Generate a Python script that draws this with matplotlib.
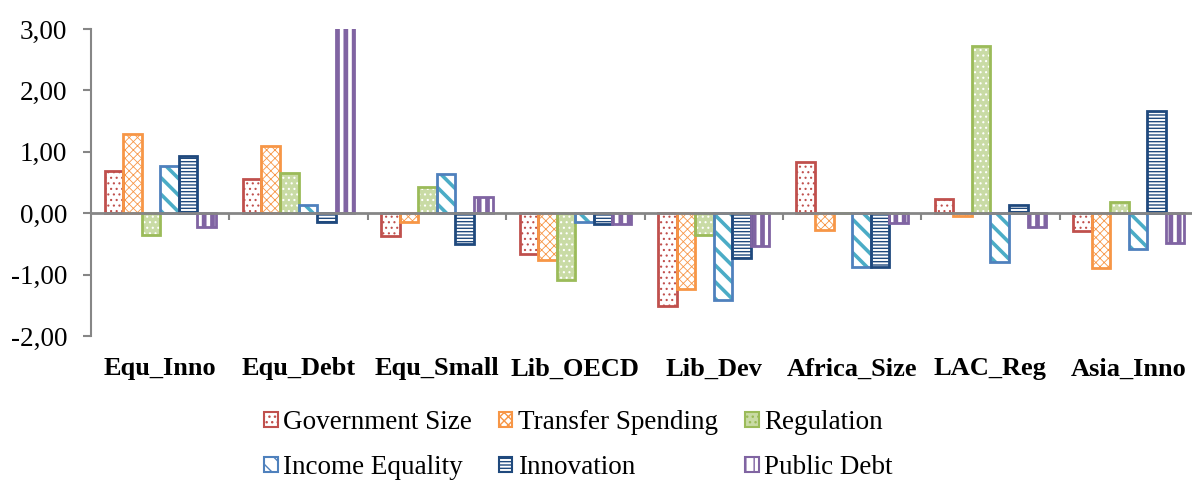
import matplotlib
matplotlib.use('Agg')
import matplotlib.pyplot as plt
import matplotlib.patches as mpatches
import matplotlib.transforms as mtransforms
from matplotlib.ticker import FuncFormatter, FixedLocator
import numpy as np

plt.rcParams['font.family'] = ['Liberation Serif', 'DejaVu Serif']

categories = ['Equ_Inno', 'Equ_Debt', 'Equ_Small', 'Lib_OECD', 'Lib_Dev',
              'Africa_Size', 'LAC_Reg', 'Asia_Inno']
series_names = ['Government Size', 'Transfer Spending', 'Regulation',
                'Income Equality', 'Innovation', 'Public Debt']

gov_size = [0.68, 0.56, -0.37, -0.67, -1.51, 0.84, 0.23, -0.29]
transfer = [1.29, 1.10, -0.14, -0.76, -1.23, -0.28, -0.04, -0.90]
regulation = [-0.35, 0.66, 0.43, -1.08, -0.36, 0.01, 2.72, 0.19]
income_eq = [0.77, 0.13, 0.64, -0.14, -1.42, -0.88, -0.79, -0.58]
innovation = [0.93, -0.15, -0.50, -0.17, -0.73, -0.87, 0.13, 1.67]
public_debt = [-0.22, 3.60, 0.27, -0.18, -0.53, -0.16, -0.23, -0.48]

values = [gov_size, transfer, regulation, income_eq, innovation, public_debt]

# outline colour, fill colour, hatch colour, hatch, hatch linewidth
styles = [
    ('#c0504d', 'white', '#c0504d', '...', 0.8),
    ('#f79646', 'white', '#f79646', 'xxxx', 0.6),
    ('#9bbb59', '#c9dba5', 'white', '...', 0.8),
    ('#4f81bd', 'white', '#4bacc6', '\\\\', 2.6),
    ('#1f497d', 'white', '#1f497d', '-----', 1.0),
    ('#8064a2', 'white', '#8064a2', '||', 3.4),
]

W, H = 1192, 482
fig = plt.figure(figsize=(W / 100, H / 100), dpi=100)
ax = fig.add_axes([91 / W, 1 - 336 / H, 1107 / W, 307 / H])

x = np.arange(len(categories))
bw = 0.134
for j, vals in enumerate(values):
    edge, face, hcol, hatch, hlw = styles[j]
    pos = x + (j - 2.5) * bw
    with plt.rc_context({'hatch.linewidth': hlw}):
        fill = ax.bar(pos, vals, bw, color=face, edgecolor=hcol, hatch=hatch,
                      linewidth=0, zorder=2)
    for p in fill:
        if hasattr(p, 'set_hatch_linewidth'):
            p.set_hatch_linewidth(hlw)
    ax.bar(pos, vals, bw, facecolor='none', edgecolor=edge, linewidth=2,
           zorder=3)

ax.set_xlim(-0.5, len(categories) - 0.5)
ax.set_ylim(-2, 3)

gray = '#868686'
for s in ['top', 'right']:
    ax.spines[s].set_visible(False)
ax.spines['left'].set_color(gray)
ax.spines['left'].set_linewidth(1.5)
ax.spines['bottom'].set_position(('data', 0))
ax.spines['bottom'].set_color(gray)
ax.spines['bottom'].set_linewidth(2)
ax.spines['bottom'].set_zorder(4)

ax.set_yticks([-2, -1, 0, 1, 2, 3])
ax.yaxis.set_major_formatter(FuncFormatter(lambda v, p: f'{v:.2f}'.replace('.', ',')))
ax.tick_params(axis='y', direction='out', length=6, width=1.5, color=gray,
               labelsize=19.5, pad=11)
ax.xaxis.set_major_locator(FixedLocator(np.arange(0.5, len(categories) - 1, 1)))
ax.tick_params(axis='x', direction='out', length=5, width=1.5, color=gray,
               labelbottom=False)

trans = mtransforms.blended_transform_factory(ax.transData, fig.transFigure)
for i, c in enumerate(categories):
    ax.text(i, 1 - 369 / H, c, transform=trans, ha='center', va='center',
            fontsize=19, fontweight='bold')

handles = []
for j, name in enumerate(series_names):
    edge, face, hcol, hatch, hlw = styles[j]
    handles.append(mpatches.Patch(facecolor=face, edgecolor=edge, hatch=hatch,
                                  linewidth=1.5, label=name))
order = [0, 3, 1, 4, 2, 5]
fig.legend([handles[k] for k in order], [series_names[k] for k in order],
           ncol=3, loc='upper left', bbox_to_anchor=(264 / W, 1 - 410 / H),
           frameon=False, fontsize=19.5, handlelength=0.5, handleheight=0.5,
           handletextpad=0.2, columnspacing=1.0, labelspacing=0.75,
           borderpad=0, borderaxespad=0)

fig.savefig('out.png', dpi=100)
